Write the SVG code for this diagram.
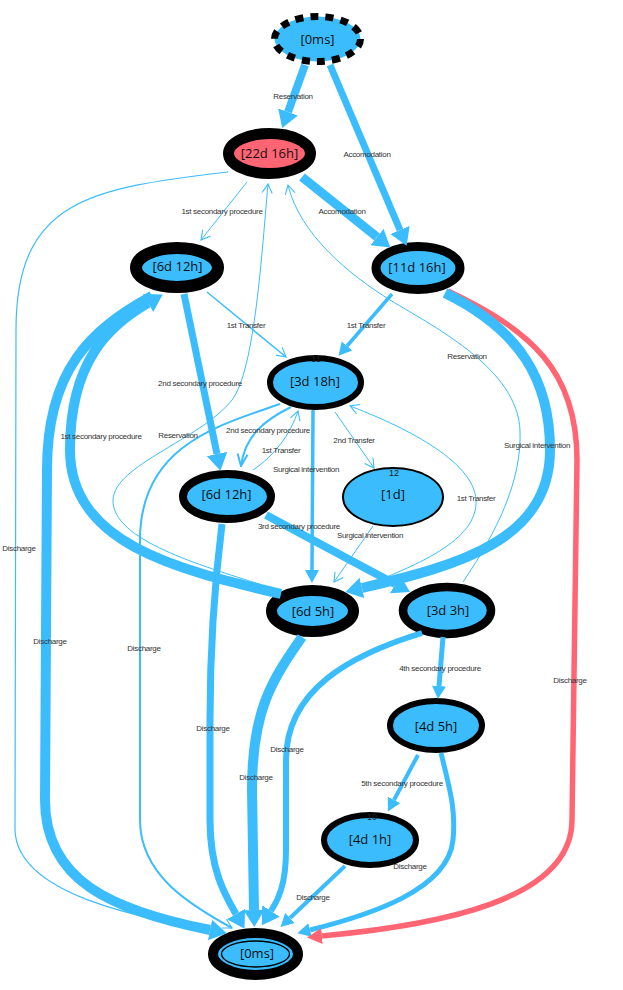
<svg xmlns="http://www.w3.org/2000/svg" width="623" height="990" viewBox="0 0 623 990">
<style>
.e{fill:none;stroke:#3BBDFD}
.r{fill:none;stroke:#FF6572}
.lbl{font-family:"Liberation Sans",Arial,sans-serif;font-size:8px;letter-spacing:-0.3px;fill:#333;text-anchor:middle}
.nl{font-family:"Open Sans","DejaVu Sans",sans-serif;font-size:13px;fill:#111;text-anchor:middle}
.num{font-family:"Liberation Sans",Arial,sans-serif;font-size:9px;fill:#222;text-anchor:middle}
.nb{fill:#3BBDFD;stroke:#000}
</style>
<defs>
<marker id="vee" viewBox="-11 -6 12 12" refX="0" refY="0" markerWidth="12" markerHeight="12" markerUnits="userSpaceOnUse" orient="auto"><path d="M-9,-5 L0,0 L-9,5" fill="none" stroke="#3BBDFD" stroke-width="1.1"/></marker>
<marker id="vee2" viewBox="-14 -7 15 14" refX="0" refY="0" markerWidth="15" markerHeight="14" markerUnits="userSpaceOnUse" orient="auto"><path d="M-12,-5 L0,0 L-12,5" fill="none" stroke="#3BBDFD" stroke-width="2"/></marker>
<marker id="tri" viewBox="0 -11 18 22" refX="0" refY="0" markerWidth="18" markerHeight="22" markerUnits="userSpaceOnUse" orient="auto"><path d="M0,-10.5 L17,0 L0,10.5 Z" fill="#3BBDFD"/></marker>
<marker id="med" viewBox="0 -8 14 16" refX="0" refY="0" markerWidth="14" markerHeight="16" markerUnits="userSpaceOnUse" orient="auto"><path d="M0,-7 L13,0 L0,7 Z" fill="#3BBDFD"/></marker>
<marker id="trired" viewBox="0 -9 16 18" refX="0" refY="0" markerWidth="16" markerHeight="18" markerUnits="userSpaceOnUse" orient="auto"><path d="M0,-8 L15,0 L0,8 Z" fill="#FF6572"/></marker>
</defs>
<rect width="623" height="990" fill="#fff"/>

<g id="n-start"><ellipse cx="317.5" cy="39" rx="43" ry="22.5" fill="#3BBDFD" stroke="#000" stroke-width="7" stroke-dasharray="8 7.06"/><text class="nl" x="317.5" y="43.5">[0ms]</text></g>
<g id="n-22d16h"><ellipse cx="269.5" cy="153.5" rx="41" ry="20" fill="#FF6572" stroke="#000" stroke-width="11"/><text class="nl" x="269.5" y="158">[22d 16h]</text></g>
<g id="n-6d12h-a"><ellipse class="nb" cx="177" cy="267.5" rx="41" ry="19.5" stroke-width="12"/><text class="nl" x="177.5" y="271">[6d 12h]</text></g>
<g id="n-11d16h"><ellipse class="nb" cx="418" cy="268" rx="42" ry="21.5" stroke-width="9"/><text class="nl" x="417" y="271.5">[11d 16h]</text></g>
<g id="n-3d18h"><ellipse class="nb" cx="315.5" cy="382.5" rx="45.5" ry="24.5" stroke-width="6"/><text class="num" x="316" y="362">11</text><text class="nl" x="315" y="386">[3d 18h]</text></g>
<g id="n-6d12h-b"><ellipse class="nb" cx="227" cy="496.5" rx="44" ry="22.5" stroke-width="8"/><text class="nl" x="226.5" y="499">[6d 12h]</text></g>
<g id="n-1d"><ellipse class="nb" cx="393" cy="497" rx="50" ry="29" stroke-width="2"/><text class="num" x="394" y="476">12</text><text class="nl" x="393" y="499">[1d]</text></g>
<g id="n-6d5h"><ellipse class="nb" cx="312.5" cy="611" rx="41" ry="20.5" stroke-width="11"/><text class="nl" x="313" y="615.5">[6d 5h]</text></g>
<g id="n-3d3h"><ellipse class="nb" cx="447" cy="610.5" rx="44" ry="23.5" stroke-width="8.5"/><text class="nl" x="448" y="614.5">[3d 3h]</text></g>
<g id="n-4d5h"><ellipse class="nb" cx="436" cy="725.5" rx="46" ry="24.5" stroke-width="6"/><text class="nl" x="436" y="730.5">[4d 5h]</text></g>
<g id="n-4d1h"><ellipse class="nb" cx="370" cy="840" rx="46" ry="25" stroke-width="6"/><text class="num" x="372" y="820">10</text><text class="nl" x="370" y="844">[4d 1h]</text></g>
<g id="n-end"><ellipse class="nb" cx="255.5" cy="954" rx="42.5" ry="21" stroke-width="10"/><ellipse cx="255.5" cy="954" rx="34" ry="13" fill="none" stroke="#000" stroke-width="1.3"/><text class="nl" x="257" y="958">[0ms]</text></g>

<g id="connectors">
<path class="e" stroke-width="8" marker-end="url(#tri)" d="M305,65 L288,112"/>
<path class="e" stroke-width="7" marker-end="url(#tri)" d="M330,65 L400,230"/>
<path class="e" stroke-width="9" marker-end="url(#tri)" d="M302,177 L377,237"/>
<path class="e" stroke-width="1" marker-end="url(#vee)" d="M247,182 L201,240"/>
<path class="e" stroke-width="1.2" marker-end="url(#vee)" d="M228,172 C90,188 16,200 16,330 L15,830 C17,895 140,918 222,932"/>
<path class="e" stroke-width="1.5" marker-end="url(#vee)" d="M207,292 L286,357"/>
<path class="e" stroke-width="3.5" marker-end="url(#med)" d="M392,294 L347,346"/>
<path class="e" stroke-width="7" marker-end="url(#tri)" d="M184,294 L217,454"/>
<path class="e" stroke-width="10" marker-end="url(#tri)" d="M281,594 C180,570 70,545 70,450 C70,360 110,325 148,303"/>
<path class="e" stroke-width="10" marker-end="url(#tri)" d="M152,296 C90,330 47,370 47,470 L45,800 C45,880 110,910 210,930"/>
<path class="e" stroke-width="2" marker-end="url(#vee)" d="M280,404 C220,425 140,445 140,540 L140,820 C140,875 190,905 232,928"/>
<path class="e" stroke-width="7" marker-end="url(#tri)" d="M222,524 C215,580 210,640 210,720 L210,820 C210,870 225,895 236,914"/>
<path class="e" stroke-width="10" marker-end="url(#tri)" d="M302,637 C272,680 252,710 252,790 L254,910"/>
<path class="e" stroke-width="6" marker-end="url(#tri)" d="M422,633 C350,655 286,690 286,760 L286,850 C286,885 278,900 271,911"/>
<path class="e" stroke-width="5" marker-end="url(#med)" d="M441,753 C450,790 456,810 453,840 C448,890 370,915 310,930"/>
<path class="e" stroke-width="4" marker-end="url(#med)" d="M345,866 L290,918"/>
<path class="r" stroke-width="5.5" marker-end="url(#trired)" d="M448,291 C530,330 577,370 577,460 L572,820 C572,900 440,925 322,936"/>
<path class="e" stroke-width="3.5" marker-end="url(#med)" d="M313,410 L312,570"/>
<path class="e" stroke-width="2" marker-end="url(#vee2)" d="M291,407 C265,420 245,435 241,466"/>
<path class="e" stroke-width="1" marker-end="url(#vee)" d="M253,470 C275,455 290,435 298,411"/>
<path class="e" stroke-width="1" marker-end="url(#vee)" d="M335,412 L374,468"/>
<path class="e" stroke-width="1" marker-end="url(#vee)" d="M348,592 C420,565 478,540 476,500 C474,460 400,425 350,406"/>
<path class="e" stroke-width="1" marker-end="url(#vee)" d="M373,526 L334,582"/>
<path class="e" stroke-width="10" marker-end="url(#tri)" d="M445,293 C520,330 550,380 550,450 C550,540 460,565 362,588"/>
<path class="e" stroke-width="8" marker-end="url(#tri)" d="M266,515 L395,584"/>
<path class="e" stroke-width="1" marker-end="url(#vee)" d="M463,582 C498,530 522,480 520,430 C517,370 440,330 390,300 C350,275 300,235 288,185"/>
<path class="e" stroke-width="1" marker-end="url(#vee)" d="M262,585 C200,565 112,540 113,500 C114,465 200,440 232,400 C255,370 262,250 268,184"/>
<path class="e" stroke-width="5" marker-end="url(#med)" d="M443,637 L439,686"/>
<path class="e" stroke-width="4" marker-end="url(#med)" d="M418,755 L394,800"/>

<text class="lbl" x="293" y="99">Reservation</text>
<text class="lbl" x="367" y="157">Accomodation</text>
<text class="lbl" x="222" y="214">1st secondary procedure</text>
<text class="lbl" x="342" y="214">Accomodation</text>
<text class="lbl" x="246" y="328">1st Transfer</text>
<text class="lbl" x="366" y="328">1st Transfer</text>
<text class="lbl" x="467" y="359">Reservation</text>
<text class="lbl" x="200" y="386">2nd secondary procedure</text>
<text class="lbl" x="101" y="439">1st secondary procedure</text>
<text class="lbl" x="178" y="438">Reservation</text>
<text class="lbl" x="268" y="433">2nd secondary procedure</text>
<text class="lbl" x="537" y="448">Surgical intervention</text>
<text class="lbl" x="354" y="443">2nd Transfer</text>
<text class="lbl" x="281" y="453">1st Transfer</text>
<text class="lbl" x="306" y="472">Surgical intervention</text>
<text class="lbl" x="476" y="501">1st Transfer</text>
<text class="lbl" x="299" y="529">3rd secondary procedure</text>
<text class="lbl" x="370" y="538">Surgical intervention</text>
<text class="lbl" x="19" y="551">Discharge</text>
<text class="lbl" x="50" y="644">Discharge</text>
<text class="lbl" x="144" y="651">Discharge</text>
<text class="lbl" x="440" y="671">4th secondary procedure</text>
<text class="lbl" x="570" y="683">Discharge</text>
<text class="lbl" x="213" y="731">Discharge</text>
<text class="lbl" x="287" y="752">Discharge</text>
<text class="lbl" x="256" y="780">Discharge</text>
<text class="lbl" x="402" y="786">5th secondary procedure</text>
<text class="lbl" x="410" y="869">Discharge</text>
<text class="lbl" x="313" y="900">Discharge</text>
</g>
</svg>
